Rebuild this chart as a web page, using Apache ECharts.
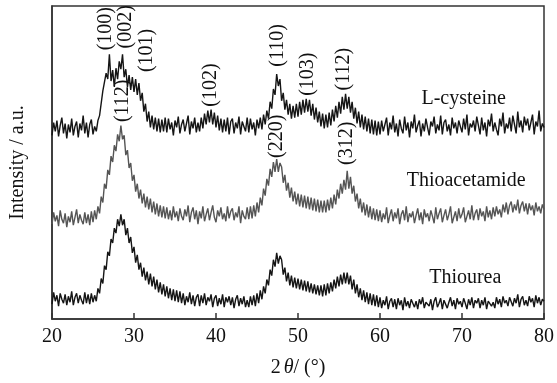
<!DOCTYPE html>
<html>
<head>
<meta charset="utf-8">
<script src="https://cdn.jsdelivr.net/npm/echarts@6/dist/echarts.min.js"></script>
<style>
html,body{margin:0;padding:0;background:#fff;}
#chart{width:557px;height:383px;}
</style>
</head>
<body>
<div id="chart"></div>
<script>
// 2θ scan grid
const thetaStart = 20;
const thetaStep = 0.2;
const xTicks = [20, 30, 40, 50, 60, 70, 80];

// intensities (a.u.), one value per 0.2°
const lCysteine = [
186,199,190,201,185,196,204,188,198,183,
197,189,203,186,195,200,184,198,191,206,
188,199,184,197,202,187,195,190,201,206,
205,231,230,249,243,268,241,252,235,254,
243,261,253,268,245,253,235,247,232,245,
230,243,227,239,221,229,210,218,200,210,
194,206,192,204,190,203,189,202,190,204,
189,203,192,199,186,201,194,205,188,197,
202,190,198,206,187,200,193,204,189,199,
190,204,193,208,197,211,199,212,197,209,
194,206,191,203,189,202,190,204,187,200,
203,188,199,193,205,187,200,195,190,204,
189,203,192,199,186,202,193,204,192,207,
197,211,203,220,213,233,227,248,236,243,
221,229,212,222,207,218,203,216,204,218,
205,220,207,222,209,223,210,222,206,218,
202,214,199,210,195,208,193,207,194,209,
196,212,200,216,204,220,208,225,212,228,
213,225,209,220,203,214,198,210,194,207,
192,205,190,203,188,202,187,201,186,200,
187,201,190,197,204,186,199,192,206,189,
198,185,202,193,188,205,191,199,184,200,
193,207,189,196,201,185,198,190,203,194,
186,200,195,205,188,197,191,206,187,199,
202,190,197,186,204,193,199,188,201,195,
189,203,192,207,186,198,194,201,190,205,
196,187,204,191,199,185,202,195,208,190,
199,192,186,203,195,209,188,198,193,204,
190,206,197,188,210,194,201,189,205,196,
203,191,199,207,187,200,195,211,190,198,
194
];
const thioacetamide = [
96,108,99,105,94,110,101,97,107,93,
104,98,109,95,103,111,97,106,100,96,
108,97,106,95,109,98,110,101,114,107,
124,118,137,132,151,146,165,159,176,170,
187,180,196,182,186,166,171,153,158,140,
146,129,137,122,131,117,127,113,124,111,
122,108,119,106,117,104,115,103,114,102,
113,101,110,100,114,103,109,99,112,104,
100,111,104,115,98,108,113,101,110,96,
109,102,114,99,106,112,100,108,115,103,
98,110,104,113,101,107,99,114,102,109,
112,100,108,103,114,97,110,104,101,113,
101,114,102,115,104,118,108,123,115,132,
125,142,135,152,144,159,149,162,149,158,
154,138,146,130,138,123,133,119,129,116,
127,114,126,113,125,112,124,111,123,110,
122,109,121,108,120,108,120,108,121,110,
123,112,126,116,131,122,137,127,141,131,
150,132,144,127,135,119,127,112,122,108,
118,105,116,103,114,101,112,100,111,99,
110,98,107,101,113,97,105,111,99,108,
102,112,96,106,110,100,114,98,107,103,
109,97,105,112,100,108,96,111,103,107,
99,110,104,97,113,101,107,112,98,105,
111,100,106,114,97,103,109,99,112,102,
106,113,98,104,110,101,115,100,107,111,
100,112,104,109,99,114,103,110,101,113,
104,114,106,111,103,116,108,118,106,115,
119,108,116,110,121,107,115,119,109,117,
106,117,110,115,105,118,109,114,107,116,
111
];
const thiourea = [
15,27,18,24,13,26,20,16,25,14,
23,17,28,14,22,26,16,24,19,15,
27,16,25,15,26,17,24,18,31,26,
41,36,54,50,68,64,81,77,92,87,
101,94,106,95,101,85,92,77,83,67,
73,57,65,50,57,43,52,39,48,35,
46,33,43,30,40,27,37,25,35,23,
33,21,31,19,30,18,29,17,28,16,
26,14,23,17,27,15,24,13,22,25,
13,24,16,26,14,22,18,25,12,21,
24,13,21,15,25,12,22,17,23,14,
22,11,20,24,13,21,15,23,12,19,
12,23,14,24,13,26,16,29,20,33,
26,40,34,50,44,60,53,67,56,64,
60,45,52,38,47,34,44,32,42,31,
41,30,40,29,39,28,38,27,36,26,
35,25,34,24,34,23,35,24,36,26,
37,28,40,31,43,33,45,35,47,36,
47,35,44,30,40,26,35,22,31,19,
29,17,27,15,26,14,25,13,24,12,
22,11,19,14,23,10,18,21,12,20,
10,21,14,19,9,22,13,18,11,20,
21,12,18,10,20,15,22,11,17,19,
13,20,9,18,22,12,16,21,10,19,
20,11,17,22,13,19,10,21,15,18,
12,21,16,10,20,14,22,11,19,16,
21,11,19,14,22,10,18,20,13,17,
11,22,15,20,12,23,16,19,13,22,
24,13,21,16,25,12,20,23,14,19,
13,23,17,21,12,24,16,22,14,20,
18
];

// peak annotations: label, 2θ, intensity of label centre
const peakNames = ['(100)','(002)','(101)','(102)','(110)','(103)','(112)','(112)','(220)','(312)'];
const peakTheta = [26.5, 29.0, 31.5, 39.3, 47.5, 51.2, 55.6, 28.6, 47.4, 55.9];
const peakLevel = [294, 296, 272, 237, 277, 248, 253, 221, 185, 178];

// sample names
const sampleNames = ['L-cysteine', 'Thioacetamide', 'Thiourea'];
const sampleTheta = [70.2, 70.5, 70.4];
const sampleLevel = [223, 140, 42];

function toPairs(arr) {
  return arr.map((v, i) => [+(thetaStart + i * thetaStep).toFixed(2), v]);
}

const FONT = '"Liberation Serif", "Times New Roman", serif';
const chart = echarts.init(document.getElementById('chart'), null, {renderer: 'canvas'});

const lineSeries = (name, data, color) => ({
  name, type: 'line', data: toPairs(data), showSymbol: false, symbol: 'none',
  lineStyle: {color, width: 1.4}, animation: false, silent: true
});

chart.setOption({
  animation: false,
  backgroundColor: '#fff',
  grid: {left: 51, right: 7, top: 6, bottom: 60, show: true, borderColor: '#333', borderWidth: 1.5, backgroundColor: 'transparent'},
  xAxis: {
    type: 'value', min: 20, max: 80, interval: 10,
    axisLine: {show: true, lineStyle: {color: '#333', width: 1.5}},
    axisTick: {show: true, inside: true, length: 6, lineStyle: {color: '#333', width: 1.5}},
    splitLine: {show: false},
    axisLabel: {color: '#111', fontFamily: FONT, fontSize: 20, margin: 8,
      formatter: v => xTicks.includes(v) ? String(v) : ''},
    name: '{a|2}{b|θ}{a|/ (°)}',
    nameLocation: 'middle', nameGap: 39,
    nameTextStyle: {rich: {
      a: {fontFamily: FONT, fontSize: 20, color: '#111'},
      b: {fontFamily: FONT, fontSize: 20, color: '#111', fontStyle: 'italic', padding: [0, 0, 0, 3]}
    }}
  },
  yAxis: {
    type: 'value', min: 0, max: 317,
    axisLine: {show: true, lineStyle: {color: '#333', width: 1.5}},
    axisTick: {show: false}, axisLabel: {show: false}, splitLine: {show: false},
    name: 'Intensity / a.u.', nameLocation: 'middle', nameGap: 24,
    nameTextStyle: {fontFamily: FONT, fontSize: 20, color: '#111'}
  },
  series: [
    lineSeries(sampleNames[0], lCysteine, '#151515'),
    lineSeries(sampleNames[1], thioacetamide, '#555555'),
    lineSeries(sampleNames[2], thiourea, '#151515')
  ]
});

const elements = [];
peakNames.forEach((t, i) => {
  const p = chart.convertToPixel({gridIndex: 0}, [peakTheta[i], peakLevel[i]]);
  elements.push({type: 'text', x: p[0], y: p[1], rotation: Math.PI / 2, silent: true,
    style: {text: t, font: '20px ' + FONT, fill: '#111', align: 'center', verticalAlign: 'middle',
      textAlign: 'center', textVerticalAlign: 'middle'}});
});
sampleNames.forEach((t, i) => {
  const p = chart.convertToPixel({gridIndex: 0}, [sampleTheta[i], sampleLevel[i]]);
  elements.push({type: 'text', x: p[0], y: p[1], silent: true,
    style: {text: t, font: '20px ' + FONT, fill: '#111', align: 'center', verticalAlign: 'middle',
      textAlign: 'center', textVerticalAlign: 'middle'}});
});
chart.setOption({graphic: {elements}});
</script>
</body>
</html>
